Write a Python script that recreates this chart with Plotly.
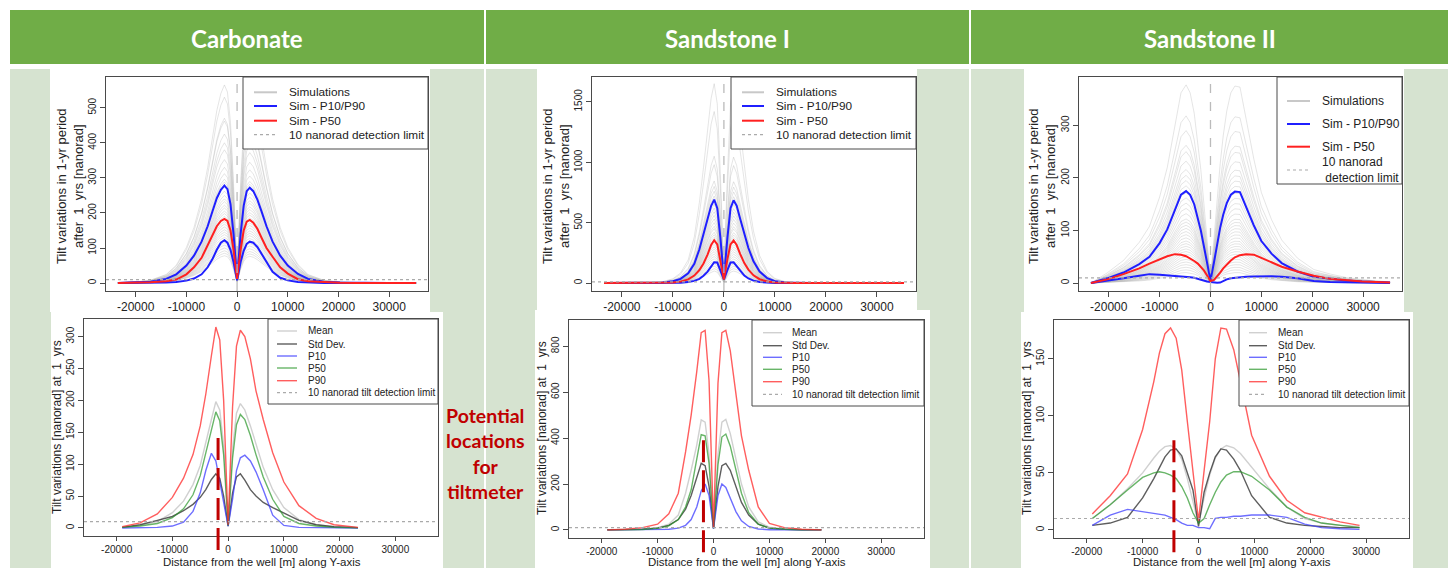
import plotly.graph_objects as go

W, H = 1448, 568
FONT = "Liberation Sans, Arial, Helvetica, sans-serif"
HEAD_FONT = "Lato, Open Sans, sans-serif"
INK = "#222222"
FRAME = "#4a4a4a"

# ---------------------------------------------------------------- data
# distance from the well [m], simulation panels
x_top = [-23500, -20300, -17100, -14000, -12000, -10000, -8500, -7000, -5800, -4800,
         -4000, -3200, -2500, -1900, -1300, -700, 0, 700, 1300, 1900, 2500, 3200,
         4000, 4800, 5800, 7000, 8500, 10000, 12000, 14000, 17100, 20300, 23500,
         26600, 29800, 32500, 35300]

x_tick_vals = [-20000, -10000, 0, 10000, 20000, 30000]
x_tick_text = ["-20000", "-10000", "0", "10000", "20000", "30000"]

# Carbonate - simulated tilt after 1 yr [nanorad]
carb_sim_p90 = [0.5, 1.5, 4, 12, 25, 50, 78, 118, 162, 207, 242, 266, 278, 268, 225, 140, 12,
                140, 220, 262, 272, 262, 238, 205, 162, 118, 78, 50, 26, 12, 4, 1.5, 0.5, 0.2, 0.1, 0, 0]
carb_sim_p50 = [0.3, 1, 2, 5, 10, 25, 45, 72, 108, 140, 162, 177, 183, 177, 150, 95, 12,
                95, 150, 175, 180, 172, 155, 130, 100, 75, 45, 27, 11, 5, 2, 1, 0.3, 0.1, 0, 0, 0]
carb_sim_p10 = [0, 0.2, 0.5, 1.5, 3, 7, 13, 25, 45, 70, 95, 115, 122, 115, 95, 60, 8,
                60, 92, 112, 118, 115, 103, 85, 60, 32, 15, 8, 3, 1.5, 0.5, 0.2, 0, 0, 0, 0, 0]
carb_sim_peaks = [565, 530, 470, 462, 425, 400, 380, 352, 330, 312, 296, 288, 276, 262, 250,
                  240, 232, 222, 214, 205, 198, 190, 182, 175, 168, 160, 152, 145, 138, 130,
                  122, 115, 108, 100, 92, 85, 78]

# Sandstone I
sand1_sim_p90 = [0, 0, 0.5, 2, 5, 15, 35, 80, 160, 280, 400, 530, 640, 690, 620, 380, 40,
                 380, 620, 685, 640, 530, 400, 290, 180, 95, 40, 16, 5, 2, 0.5, 0, 0, 0, 0, 0, 0]
sand1_sim_p50 = [0, 0, 0, 0.5, 1.5, 5, 12, 30, 62, 108, 162, 235, 315, 355, 320, 200, 30,
                 200, 320, 352, 315, 240, 165, 112, 64, 32, 13, 5, 1.5, 0.5, 0, 0, 0, 0, 0, 0, 0]
sand1_sim_p10 = [0, 0, 0, 0, 0.5, 1, 3, 8, 18, 35, 60, 95, 140, 172, 170, 110, 30,
                 110, 170, 172, 140, 95, 62, 38, 20, 9, 3, 1, 0.5, 0, 0, 0, 0, 0, 0, 0, 0]
sand1_sim_peaks = [1650, 1420, 1050, 980, 845, 800, 760, 720, 690, 655, 620, 590, 560, 530,
                   500, 470, 450, 420, 400, 380, 360, 340, 320, 300, 280, 260, 240, 220, 200,
                   180, 160, 140, 120, 100]

# Sandstone II
sand2_sim_p90 = [0, 9, 20, 36, 50, 76, 102, 140, 168, 175, 168, 150, 125, 100, 70, 38, 5,
                 40, 75, 105, 130, 152, 168, 174, 173, 145, 110, 80, 56, 38, 22, 12, 8, 5, 3, 2, 1]
sand2_sim_p50 = [0, 7, 17, 28, 37, 45, 51, 55, 54, 51, 47, 42, 37, 31, 24, 15, 4,
                 6, 12, 20, 28, 36, 43, 49, 53, 55, 54, 48, 40, 31, 22, 14, 8, 5, 3, 2, 1]
sand2_sim_p10 = [0, 4, 9, 14, 17, 16, 15, 14, 13, 12, 11, 10, 8, 6, 4, 3, 2,
                 1, 0.5, 1, 4, 7, 9, 10, 11, 12, 12.5, 13, 13, 12, 9, 4, 2, 1.5, 1, 0.5, 0]
sand2_sim_peaks = [377, 318, 290, 262, 250, 232, 216, 205, 195, 185, 172, 162, 152, 142, 132,
                   122, 116, 110, 104, 98, 92, 86, 80, 75, 70, 65, 60, 55, 50, 45, 40, 35,
                   30, 25, 20]

# statistics panels
x_carb = [-19000, -15800, -12700, -10000, -8000, -6300, -5000, -4000, -3000, -2200, -1500, -800,
          0, 800, 1500, 2200, 3000, 4000, 5000, 6300, 8000, 10000, 12700, 15800, 19000, 23300]
carb_mean = [1, 4, 10, 24, 42, 68, 98, 132, 170, 198, 185, 130, 5,
             125, 180, 195, 185, 160, 130, 95, 60, 32, 13, 5, 2, 0.5]
carb_std = [1, 5, 12, 18, 27, 37, 48, 60, 76, 85, 78, 50, 3,
            55, 80, 85, 75, 60, 50, 40, 32, 24, 12, 5, 2, 0.5]
carb_p10 = [0, 0.5, 1, 3, 9, 26, 55, 90, 117, 105, 70, 40, 3,
            45, 90, 110, 114, 105, 88, 60, 20, 4, 1, 0.5, 0, 0]
carb_p50 = [1, 3, 7, 16, 30, 52, 82, 118, 158, 182, 168, 115, 4,
            110, 162, 178, 170, 145, 115, 80, 45, 18, 7, 3, 1, 0.3]
carb_p90 = [2, 8, 22, 48, 78, 115, 160, 210, 270, 315, 295, 200, 5,
            190, 285, 310, 300, 265, 215, 170, 118, 72, 35, 15, 5, 1]

x_sand1 = [-19000, -15800, -12700, -10000, -8000, -6300, -5000, -4000, -3000, -2200, -1500, -800,
           0, 800, 1500, 2200, 3000, 4000, 5000, 6300, 8000, 10000, 12700, 15800, 19300]
sand1_mean = [0, 1, 3, 10, 25, 65, 160, 260, 370, 480, 470, 330, 8,
              330, 470, 482, 420, 310, 200, 100, 35, 12, 4, 1, 0]
sand1_std = [0, 1, 3, 8, 20, 45, 90, 150, 230, 290, 280, 190, 6,
             190, 280, 290, 260, 190, 120, 65, 25, 8, 3, 1, 0]
sand1_p10 = [0, 0, 0.5, 1, 3, 8, 20, 45, 100, 170, 200, 150, 5,
             150, 200, 185, 140, 80, 40, 15, 4, 1, 0.5, 0, 0]
sand1_p50 = [0, 1, 2, 7, 18, 45, 100, 175, 300, 415, 410, 290, 8,
             285, 405, 418, 365, 255, 160, 75, 25, 8, 3, 1, 0]
sand1_p90 = [0, 3, 10, 25, 70, 160, 340, 500, 690, 860, 870, 650, 10,
             640, 860, 870, 780, 590, 410, 260, 100, 28, 10, 3, 0]

x_sand2 = [-19000, -15800, -12700, -10000, -8000, -7000, -6000, -5000, -4000, -3000, -2000, -1000,
           0, 1000, 2000, 3000, 4000, 5000, 6300, 7500, 9500, 12700, 15800, 19000, 22000, 25300, 28800]
sand2_mean = [10, 22, 36, 50, 63, 69, 73, 74, 71, 62, 45, 25, 5,
              28, 48, 63, 71, 74, 72, 67, 55, 36, 20, 10, 6, 4, 3]
sand2_std = [4, 6, 11, 28, 45, 55, 64, 70, 71, 65, 50, 35, 3,
             33, 50, 64, 71, 70, 62, 52, 30, 11, 6, 4, 3, 2, 2]
sand2_p10 = [4, 13, 18, 16, 15, 14, 13, 11, 9, 6, 4, 4, 2,
             2, 1, 10, 11, 11, 12, 12, 13, 13, 11, 5, 2, 1, 0.5]
sand2_p50 = [10, 22, 35, 46, 50, 51, 50, 48, 45, 38, 28, 15, 6,
             10, 22, 33, 42, 48, 51, 51, 47, 35, 20, 11, 6, 4, 2]
sand2_p90 = [14, 30, 49, 88, 130, 155, 172, 177, 168, 140, 95, 50, 8,
             52, 95, 150, 177, 176, 158, 130, 83, 47, 26, 15, 11, 7, 4]

detection_limit = 10                      # nanorad
tiltmeter_x = [-1800, -1800, -4400]       # proposed tiltmeter positions [m]
tiltmeter_top = [145, 394, 83]            # upper end of the marker [nanorad]

columns = ["Carbonate", "Sandstone I", "Sandstone II"]

# ---------------------------------------------------------------- layout helpers
def px_x(p):
    return p / W


def px_y(p):
    return 1 - p / H


X_RANGE = [-25852, 37652]

# frame (left, top, right, bottom) in px, y range, y ticks
panels = [
    dict(frame=(106, 77, 428, 291), yr=[-22.6, 587.6], yt=[0, 100, 200, 300, 400, 500]),
    dict(frame=(592, 77, 916, 291), yr=[-65.6, 1705.6], yt=[0, 500, 1000, 1500]),
    dict(frame=(1079, 77, 1402, 291), yr=[-15.1, 392], yt=[0, 100, 200, 300]),
    dict(frame=(84, 319, 438, 536), yr=[-12.6, 327.6], yt=[0, 50, 100, 150, 200, 250, 300]),
    dict(frame=(569, 320, 924, 538), yr=[-35.2, 915], yt=[0, 200, 400, 600, 800]),
    dict(frame=(1054, 320, 1409, 538), yr=[-7.1, 184], yt=[0, 50, 100, 150]),
]

fig = go.Figure()
shapes = []
annotations = []
layout_axes = {}

for i, p in enumerate(panels, start=1):
    l, t, r, b = p["frame"]
    top_row = i <= 3
    sfx = "" if i == 1 else str(i)
    common = dict(showline=True, mirror=True, linecolor=FRAME, linewidth=1,
                  ticks="outside", tickcolor=FRAME, tickwidth=1,
                  showgrid=False, zeroline=False, fixedrange=True)
    layout_axes["xaxis" + sfx] = dict(
        common, domain=[px_x(l), px_x(r)], range=X_RANGE, anchor="y" + sfx,
        ticklen=5 if top_row else 4,
        tickvals=x_tick_vals, ticktext=x_tick_text,
        tickfont=dict(family=FONT, size=12 if top_row else 10, color=INK))
    layout_axes["yaxis" + sfx] = dict(
        common, domain=[px_y(b), px_y(t)], range=p["yr"], anchor="x" + sfx, ticklen=5,
        tickvals=p["yt"], ticktext=[str(v) for v in p["yt"]], tickangle=-90,
        tickfont=dict(family=FONT, size=10, color=INK))
    p["xa"], p["ya"] = "x" + sfx, "y" + sfx


def add_line(panel, x, y, color, width):
    fig.add_trace(go.Scatter(x=x, y=y, mode="lines", xaxis=panel["xa"], yaxis=panel["ya"],
                             line=dict(color=color, width=width), hoverinfo="skip",
                             showlegend=False))


# ---------------------------------------------------------------- slide background
shapes.append(dict(type="rect", xref="paper", yref="paper", layer="below",
                   x0=px_x(10), x1=1, y0=px_y(64), y1=px_y(10),
                   fillcolor="#70AD47", line=dict(width=0)))
shapes.append(dict(type="rect", xref="paper", yref="paper", layer="below",
                   x0=px_x(10), x1=1, y0=0, y1=px_y(69),
                   fillcolor="#D6E3D0", line=dict(width=0)))
for xd in (485, 970):
    shapes.append(dict(type="line", xref="paper", yref="paper", layer="below",
                       x0=px_x(xd), x1=px_x(xd), y0=0, y1=px_y(10),
                       line=dict(color="white", width=2)))
for (l, t, r, b) in [(50, 69, 430, 312), (537, 69, 917, 312), (1024, 69, 1404, 312),
                     (51, 312, 443, 568), (535, 310, 930, 568), (1021, 312, 1413, 568)]:
    shapes.append(dict(type="rect", xref="paper", yref="paper", layer="below",
                       x0=px_x(l), x1=px_x(r), y0=px_y(b), y1=px_y(t),
                       fillcolor="white", line=dict(width=0)))

for name, cx in zip(columns, (247, 727, 1210)):
    annotations.append(dict(text="<b>%s</b>" % name, x=px_x(cx), y=px_y(38),
                            xref="paper", yref="paper", showarrow=False,
                            xanchor="center", yanchor="middle",
                            font=dict(family=HEAD_FONT, size=24, color="white")))

# ---------------------------------------------------------------- simulation panels
top_sets = [
    (carb_sim_p10, carb_sim_p50, carb_sim_p90, carb_sim_peaks),
    (sand1_sim_p10, sand1_sim_p50, sand1_sim_p90, sand1_sim_peaks),
    (sand2_sim_p10, sand2_sim_p50, sand2_sim_p90, sand2_sim_peaks),
]
for panel, (p10, p50, p90, peaks) in zip(panels[:3], top_sets):
    # individual realisations share the P90 profile, scaled to their peak tilt
    ref = max(p90)
    for pk in peaks:
        add_line(panel, x_top, [v * pk / ref for v in p90], "rgba(175,175,175,0.32)", 1)
    add_line(panel, x_top, p90, "#1f1fff", 2)
    add_line(panel, x_top, p10, "#1f1fff", 2)
    add_line(panel, x_top, p50, "#ff2020", 2)
    shapes.append(dict(type="line", xref=panel["xa"], yref=panel["ya"] + " domain",
                       x0=0, x1=0, y0=0, y1=1, layer="above",
                       line=dict(color="#bbbbbb", width=1.3, dash="dash")))

# ---------------------------------------------------------------- statistics panels
bottom_sets = [
    (x_carb, carb_mean, carb_std, carb_p10, carb_p50, carb_p90),
    (x_sand1, sand1_mean, sand1_std, sand1_p10, sand1_p50, sand1_p90),
    (x_sand2, sand2_mean, sand2_std, sand2_p10, sand2_p50, sand2_p90),
]
C_MEAN = "rgba(200,200,200,0.85)"
C_STD = "rgba(40,40,40,0.75)"
C_P10 = "rgba(60,60,255,0.75)"
C_P50 = "rgba(40,150,40,0.7)"
C_P90 = "rgba(255,40,40,0.75)"
for panel, (xs, mean, std, p10, p50, p90) in zip(panels[3:], bottom_sets):
    add_line(panel, xs, mean, C_MEAN, 1.4)
    add_line(panel, xs, std, C_STD, 1.4)
    add_line(panel, xs, p10, C_P10, 1.4)
    add_line(panel, xs, p50, C_P50, 1.4)
    add_line(panel, xs, p90, C_P90, 1.4)

# detection limit
for panel in panels:
    shapes.append(dict(type="line", xref=panel["xa"] + " domain", yref=panel["ya"],
                       x0=0, x1=1, y0=detection_limit, y1=detection_limit, layer="above",
                       line=dict(color="#aaaaaa", width=1.2, dash="dot")))

# proposed tiltmeter locations
for panel, xt, top in zip(panels[3:], tiltmeter_x, tiltmeter_top):
    y0r, y1r = panel["yr"]
    frac_top = (top - y0r) / (y1r - y0r)
    shapes.append(dict(type="line", xref=panel["xa"], yref=panel["ya"] + " domain",
                       x0=xt, x1=xt, y0=-0.065, y1=frac_top, layer="above",
                       line=dict(color="#C00000", width=3, dash="22px,8px")))

# ---------------------------------------------------------------- legends
def legend(box, rows, sample, text_x, size):
    l, t, r, b = box
    shapes.append(dict(type="rect", xref="paper", yref="paper", layer="above",
                       x0=px_x(l), x1=px_x(r), y0=px_y(b), y1=px_y(t),
                       fillcolor="white", line=dict(color=FRAME, width=1)))
    for (label, color, width, dash, yc) in rows:
        shapes.append(dict(type="line", xref="paper", yref="paper", layer="above",
                           x0=px_x(sample[0]), x1=px_x(sample[1]), y0=px_y(yc), y1=px_y(yc),
                           line=dict(color=color, width=width, dash=dash)))
        annotations.append(dict(text=label, x=px_x(text_x), y=px_y(yc), xref="paper",
                                yref="paper", showarrow=False, xanchor="left",
                                yanchor="middle", align="left",
                                font=dict(family=FONT, size=size, color=INK)))


SIM_GREY = "rgba(200,200,200,1)"
legend((243, 77, 428, 149),
       [("Simulations", SIM_GREY, 2, "solid", 92.3), ("Sim - P10/P90", "#1f1fff", 2, "solid", 106),
        ("Sim - P50", "#ff2020", 2, "solid", 120.7),
        ("10 nanorad detection limit", "#aaaaaa", 1.2, "dot", 134.7)],
       (254, 277), 286.5, 11.8)
legend((731, 77, 916, 149),
       [("Simulations", SIM_GREY, 2, "solid", 92.3), ("Sim - P10/P90", "#1f1fff", 2, "solid", 106),
        ("Sim - P50", "#ff2020", 2, "solid", 120.7),
        ("10 nanorad detection limit", "#aaaaaa", 1.2, "dot", 134.7)],
       (742, 764), 774, 11.8)
legend((1277, 77, 1402, 184),
       [("Simulations", SIM_GREY, 2, "solid", 101), ("Sim - P10/P90", "#1f1fff", 2, "solid", 124),
        ("Sim - P50", "#ff2020", 2, "solid", 146.7),
        ("10 nanorad<br>\u00a0detection limit", "#aaaaaa", 1.2, "dot", 170)],
       (1287, 1310), 1320, 12)

stat_rows = [("Mean", C_MEAN, 1.4, "solid"), ("Std Dev.", C_STD, 1.4, "solid"),
             ("P10", C_P10, 1.4, "solid"), ("P50", C_P50, 1.4, "solid"),
             ("P90", C_P90, 1.4, "solid"),
             ("10 nanorad tilt detection limit", "#aaaaaa", 1.2, "dot")]
row_y_1 = [331, 344, 356, 368, 380.7, 392.7]
row_y_2 = [332.7, 345.7, 357.3, 369.3, 381.7, 394.3]
legend((268, 319, 438, 404), [r + (y,) for r, y in zip(stat_rows, row_y_1)], (277, 297), 305.5, 10)
legend((752, 320, 924, 406), [r + (y,) for r, y in zip(stat_rows, row_y_2)], (763, 782), 789.5, 10)
legend((1239, 320, 1409, 406), [r + (y,) for r, y in zip(stat_rows, row_y_2)], (1249, 1267), 1276, 10)

# ---------------------------------------------------------------- axis titles
NB = "\u00a0"
top_ytitle = "Tilt variations in 1-yr period<br>after%s1%syrs [nanorad]" % (NB * 2, NB * 2)
bot_ytitle = "Tilt variations [nanorad] at%s1%syrs" % (NB * 2, NB * 2)
xtitle = "Distance from the well [m] along Y-axis"
for cx in (70, 556, 1042):
    annotations.append(dict(text=top_ytitle, x=px_x(cx), y=px_y(186), xref="paper", yref="paper",
                            showarrow=False, textangle=-90, xanchor="center", yanchor="middle",
                            font=dict(family=FONT, size=13, color=INK)))
for cx, cy in ((57, 427), (542, 428), (1027, 428)):
    annotations.append(dict(text=bot_ytitle, x=px_x(cx), y=px_y(cy), xref="paper", yref="paper",
                            showarrow=False, textangle=-90, xanchor="center", yanchor="middle",
                            font=dict(family=FONT, size=12, color=INK)))
for cx in (262, 747, 1232):
    annotations.append(dict(text=xtitle, x=px_x(cx), y=px_y(562), xref="paper", yref="paper",
                            showarrow=False, xanchor="center", yanchor="middle",
                            font=dict(family=FONT, size=11.5, color=INK)))

annotations.append(dict(text="<b>Potential<br>locations<br>for<br>tiltmeter</b>",
                        x=px_x(485), y=px_y(453), xref="paper", yref="paper",
                        showarrow=False, xanchor="center", yanchor="middle", align="center",
                        font=dict(family=HEAD_FONT, size=19.5, color="#C00000")))

fig.update_layout(width=W, height=H, margin=dict(l=0, r=0, t=0, b=0, pad=0),
                  paper_bgcolor="white", plot_bgcolor="white", showlegend=False,
                  shapes=shapes, annotations=annotations, **layout_axes)

fig.write_html("out.html")
